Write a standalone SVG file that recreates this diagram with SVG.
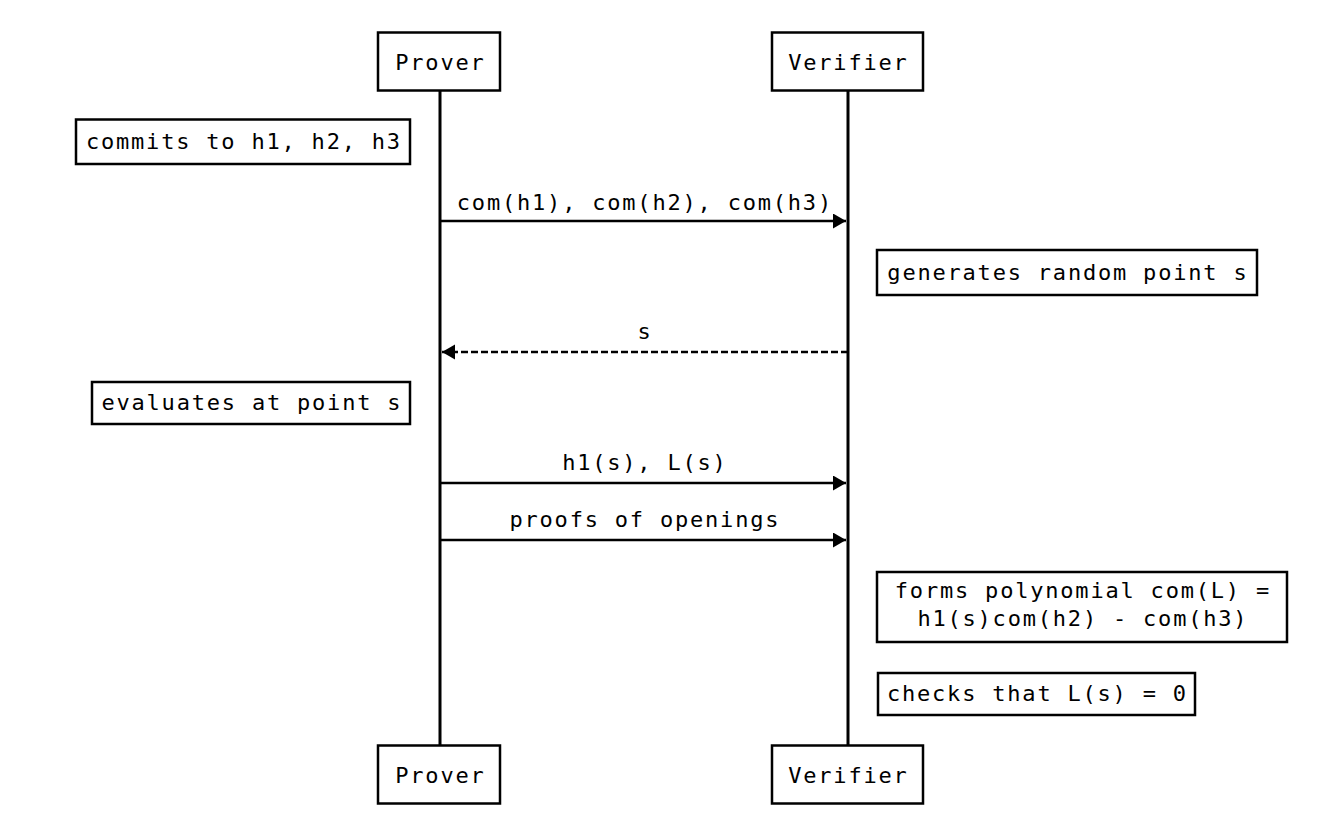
<svg xmlns="http://www.w3.org/2000/svg" width="1326" height="834" viewBox="0 0 1326 834">
<defs>
<style>
.box{fill:#fff;stroke:#000;stroke-width:2.5}
.life{stroke:#000;stroke-width:3;fill:none}
.msg{stroke:#000;stroke-width:2.5;fill:none}
.dash{stroke-dasharray:7,3}
text{font-family:"DejaVu Sans Mono","Liberation Mono",monospace;font-size:22px;letter-spacing:1.8px;fill:#000;text-anchor:middle}
</style>
<marker id="ah" markerUnits="userSpaceOnUse" markerWidth="14" markerHeight="16" refX="13" refY="7.5" orient="auto">
<path d="M0,0 L13,7.5 L0,15 z" fill="#000"/>
</marker>
</defs>
<rect width="1326" height="834" fill="#fff"/>
<g id="lifelines">
<line class="life" x1="440" y1="91" x2="440" y2="745"/>
<line class="life" x1="848" y1="91" x2="848" y2="745"/>
</g>
<g id="prover-top"><rect class="box" x="378" y="32.5" width="122" height="58"/><text x="440.4" y="70">Prover</text></g>
<g id="verifier-top"><rect class="box" x="772" y="32.5" width="151" height="58"/><text x="848.4" y="70">Verifier</text></g>
<g id="prover-bottom"><rect class="box" x="378" y="745.5" width="122" height="58"/><text x="440.4" y="783">Prover</text></g>
<g id="verifier-bottom"><rect class="box" x="772" y="745.5" width="151" height="58"/><text x="848.4" y="783">Verifier</text></g>
<g id="note-commits"><rect class="box" x="76" y="119.5" width="334" height="44.5"/><text x="243.9" y="149">commits to h1, h2, h3</text></g>
<g id="note-generates"><rect class="box" x="877" y="250" width="380" height="45"/><text x="1067.9" y="280">generates random point s</text></g>
<g id="note-evaluates"><rect class="box" x="92" y="382" width="318" height="42"/><text x="251.9" y="410">evaluates at point s</text></g>
<g id="note-forms"><rect class="box" x="877" y="572" width="410" height="70"/><text x="1082.9" y="598">forms polynomial com(L) =</text><text x="1082.9" y="626">h1(s)com(h2) - com(h3)</text></g>
<g id="note-checks"><rect class="box" x="878" y="673" width="317" height="42"/><text x="1037.4" y="701">checks that L(s) = 0</text></g>
<g id="connectors">
<line class="msg" x1="440" y1="221" x2="846" y2="221" marker-end="url(#ah)"/>
<text x="644.9" y="210">com(h1), com(h2), com(h3)</text>
<line class="msg dash" x1="848" y1="352" x2="442" y2="352" marker-end="url(#ah)"/>
<text x="644.9" y="339">s</text>
<line class="msg" x1="440" y1="483" x2="846" y2="483" marker-end="url(#ah)"/>
<text x="644.9" y="470">h1(s), L(s)</text>
<line class="msg" x1="440" y1="540" x2="846" y2="540" marker-end="url(#ah)"/>
<text x="644.9" y="527">proofs of openings</text>
</g>
</svg>
